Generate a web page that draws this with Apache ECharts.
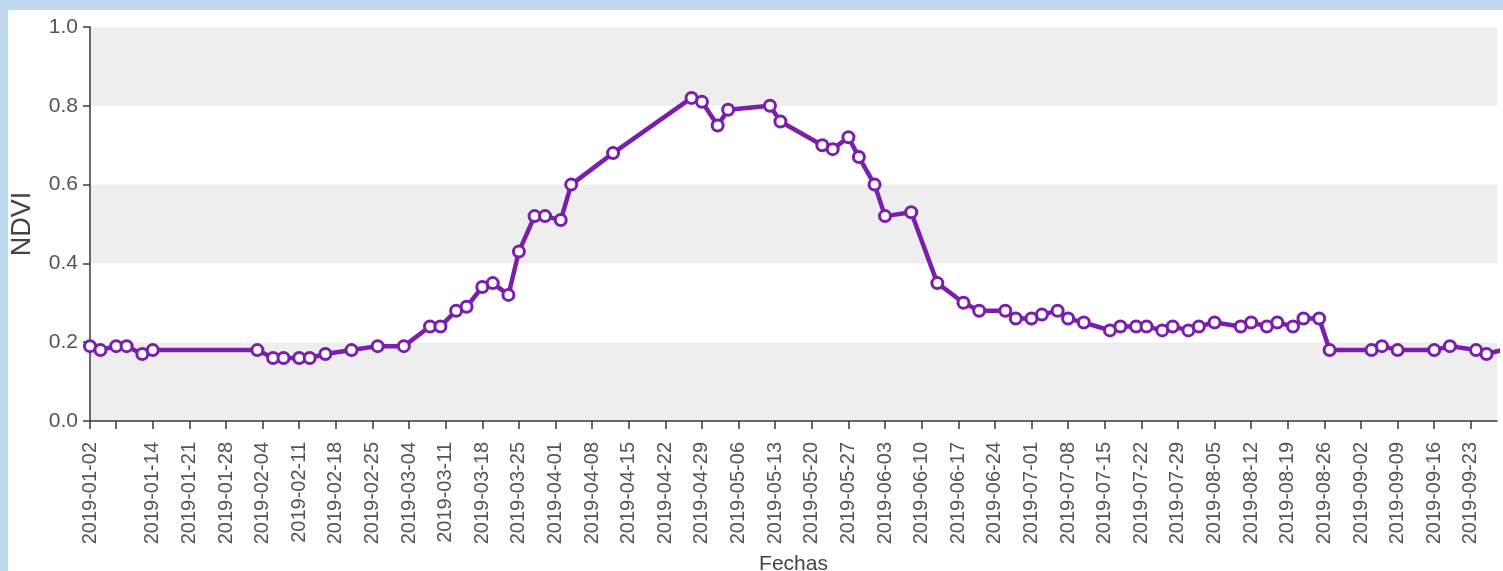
<!DOCTYPE html>
<html>
<head>
<meta charset="utf-8">
<script src="https://cdn.jsdelivr.net/npm/echarts@6/dist/echarts.min.js"></script>
<style>
html,body{margin:0;padding:0;width:1503px;height:571px;background:#bfd7ee;overflow:hidden;}
#panel{position:absolute;left:8px;top:10px;width:1495px;height:561px;background:#ffffff;overflow:hidden;}
#chart{position:absolute;left:-8px;top:-10px;width:1503px;height:571px;}
</style>
</head>
<body>
<div id="panel"><div id="chart"></div></div>
<script>
// ---- data ----
const dates = [
 '2019-01-02','2019-01-04','2019-01-07','2019-01-09','2019-01-12','2019-01-14',
 '2019-02-03','2019-02-06','2019-02-08','2019-02-11','2019-02-13','2019-02-16',
 '2019-02-21','2019-02-26','2019-03-03','2019-03-08','2019-03-10','2019-03-13',
 '2019-03-15','2019-03-18','2019-03-20','2019-03-23','2019-03-25','2019-03-28',
 '2019-03-30','2019-04-02','2019-04-04','2019-04-12','2019-04-27','2019-04-29',
 '2019-05-02','2019-05-04','2019-05-12','2019-05-14','2019-05-22','2019-05-24',
 '2019-05-27','2019-05-29','2019-06-01','2019-06-03','2019-06-08','2019-06-13',
 '2019-06-18','2019-06-21','2019-06-26','2019-06-28','2019-07-01','2019-07-03',
 '2019-07-06','2019-07-08','2019-07-11','2019-07-16','2019-07-18','2019-07-21',
 '2019-07-23','2019-07-26','2019-07-28','2019-07-31','2019-08-02','2019-08-05',
 '2019-08-10','2019-08-12','2019-08-15','2019-08-17','2019-08-20','2019-08-22',
 '2019-08-25','2019-08-27','2019-09-04','2019-09-06','2019-09-09','2019-09-16',
 '2019-09-19','2019-09-24','2019-09-26','2019-09-29'
];
const ndvi = [
 0.19,0.18,0.19,0.19,0.17,0.18,
 0.18,0.16,0.16,0.16,0.16,0.17,
 0.18,0.19,0.19,0.24,0.24,0.28,
 0.29,0.34,0.35,0.32,0.43,0.52,
 0.52,0.51,0.60,0.68,0.82,0.81,
 0.75,0.79,0.80,0.76,0.70,0.69,
 0.72,0.67,0.60,0.52,0.53,0.35,
 0.30,0.28,0.28,0.26,0.26,0.27,
 0.28,0.26,0.25,0.23,0.24,0.24,
 0.24,0.23,0.24,0.23,0.24,0.25,
 0.24,0.25,0.24,0.25,0.24,0.26,
 0.26,0.18,0.18,0.19,0.18,0.18,
 0.19,0.18,0.17,0.18
];
const labelDates = [
 '2019-01-02','2019-01-14','2019-01-21','2019-01-28','2019-02-04','2019-02-11',
 '2019-02-18','2019-02-25','2019-03-04','2019-03-11','2019-03-18','2019-03-25',
 '2019-04-01','2019-04-08','2019-04-15','2019-04-22','2019-04-29','2019-05-06',
 '2019-05-13','2019-05-20','2019-05-27','2019-06-03','2019-06-10','2019-06-17',
 '2019-06-24','2019-07-01','2019-07-08','2019-07-15','2019-07-22','2019-07-29',
 '2019-08-05','2019-08-12','2019-08-19','2019-08-26','2019-09-02','2019-09-09',
 '2019-09-16','2019-09-23'
];
const tickDates = ['2019-01-02','2019-01-07'].concat(labelDates.slice(1));
const xMin = '2019-01-02';
const xMax = '2019-09-28';

function ts(s){const p=s.split('-').map(Number);return Date.UTC(p[0],p[1]-1,p[2]);}
function fmt(v){const d=new Date(v);const m=d.getUTCMonth()+1,dd=d.getUTCDate();
 return d.getUTCFullYear()+'-'+(m<10?'0':'')+m+'-'+(dd<10?'0':'')+dd;}

const chart = echarts.init(document.getElementById('chart'));
const axisCol = '#3a3a3a';
chart.setOption({
  animation: false,
  backgroundColor: 'transparent',
  grid: {left: 90, right: 6, top: 27, bottom: 150, containLabel: false, outerBoundsMode: 'none'},
  xAxis: {
    type: 'value',
    min: ts(xMin),
    max: ts(xMax),
    name: 'Fechas',
    nameLocation: 'middle',
    nameGap: 133,
    nameTextStyle: {fontFamily: 'Liberation Sans, Arial', fontSize: 21, color: '#444'},
    axisLine: {show: true, lineStyle: {color: axisCol, width: 1.5}},
    axisTick: {show: true, length: 8, lineStyle: {color: axisCol, width: 1.5},
      customValues: tickDates.map(ts)},
    axisLabel: {rotate: 90, fontFamily: 'Liberation Sans, Arial', fontSize: 20, color: '#555',
      margin: 21, customValues: labelDates.map(ts), formatter: v => fmt(v),
      showMinLabel: true, showMaxLabel: true, hideOverlap: false},
    splitLine: {show: false}
  },
  yAxis: {
    type: 'value',
    min: 0, max: 1, interval: 0.2,
    name: 'NDVI',
    nameLocation: 'middle',
    nameGap: 54,
    nameRotate: 90,
    nameTextStyle: {fontFamily: 'Liberation Sans, Arial', fontSize: 27, color: '#444'},
    axisLine: {show: true, lineStyle: {color: axisCol, width: 1.5}},
    axisTick: {show: true, length: 7, lineStyle: {color: axisCol, width: 1.5}},
    axisLabel: {fontFamily: 'Liberation Sans, Arial', fontSize: 21, color: '#555', margin: 12,
      formatter: v => v.toFixed(1)},
    splitLine: {show: false},
    splitArea: {show: true, areaStyle: {color: ['#eeeeee', '#ffffff']}}
  },
  series: [{
    type: 'line',
    data: dates.map((d, i) => [ts(d), ndvi[i]]),
    clip: true,
    symbol: 'circle',
    symbolSize: 11,
    showAllSymbol: true,
    lineStyle: {color: '#7a1fab', width: 4.5},
    itemStyle: {color: '#ffffff', borderColor: '#7a1fab', borderWidth: 3}
  }]
});
</script>
</body>
</html>
